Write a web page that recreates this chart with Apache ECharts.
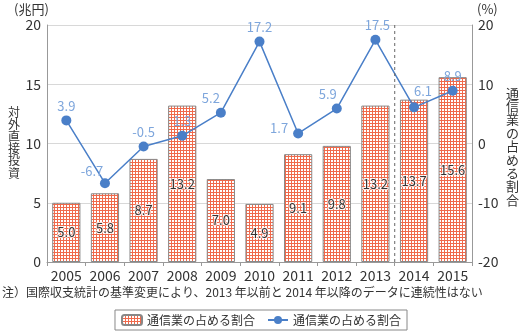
<!DOCTYPE html>
<html><head><meta charset="utf-8">
<script src="https://cdn.jsdelivr.net/npm/echarts@6/dist/echarts.min.js"></script>
<style>html,body{margin:0;padding:0;background:#fff}#c{width:522px;height:336px}</style>
</head><body><div id="c"></div>
<script>
var years = ['2005','2006','2007','2008','2009','2010','2011','2012','2013','2014','2015'];
var investment = [5.0, 5.8, 8.7, 13.2, 7.0, 4.9, 9.1, 9.8, 13.2, 13.7, 15.6];
var share = [3.9, -6.7, -0.5, 1.3, 5.2, 17.2, 1.7, 5.9, 17.5, 6.1, 8.9];
var leftTicks = [0, 5, 10, 15, 20];
var rightTicks = [-20, -10, 0, 10, 20];
var legendName = '通信業の占める割合';
var leftTitle = '対外直接投資';
var rightTitle = '通信業の占める割合';
var noteText = '注）国際収支統計の基準変更により、2013 年以前と 2014 年以降のデータに連続性はない';

var FONT = '"Noto Sans CJK JP", "Noto Sans", sans-serif';
// pattern
var pc = document.createElement('canvas');
pc.width = 3; pc.height = 3;
var pctx = pc.getContext('2d');
pctx.fillStyle = '#f06a4c'; pctx.fillRect(0,0,3,3);
pctx.fillStyle = '#ffffff'; pctx.fillRect(1,1,2,2);
var pattern = {image: pc, repeat: 'repeat'};

// label placements for line points (style config, not data)
var lblPos = ['top','top','top','top','top','top','left','top','top','top','top'];
var lblOff = [[0,2],[-13,4],[0,2],[0,2],[-10,2],[0,2],[0,-5],[-9,2],[2,2],[9,0],[0,2]];

function vtext(s){ return s.split('').join('\n'); }

var chart = echarts.init(document.getElementById('c'));
var option = {
  animation: false,
  textStyle: {fontFamily: FONT},
  title: [{
    text: vtext(leftTitle), left: 8, top: 106, padding: 0,
    textStyle: {fontSize: 12, lineHeight: 12.2, fontWeight: 'normal', color: '#333', fontFamily: FONT}
  }, {
    text: vtext(rightTitle), left: 506, top: 86, padding: 0,
    textStyle: {fontSize: 13, lineHeight: 13.4, fontWeight: 'normal', color: '#333', fontFamily: FONT}
  }],
  grid: {left: 47, right: 50, top: 25, bottom: 74},
  legend: {
    left: 'center', top: 310,
    itemWidth: 20, itemHeight: 10, itemGap: 12,
    padding: [4, 6],
    borderColor: '#888', borderWidth: 1,
    textStyle: {fontFamily: FONT, fontSize: 12, color: '#333'},
    data: ['bar', 'line'],
    formatter: function(){ return legendName; }
  },
  xAxis: {
    type: 'category', data: years,
    axisLine: {lineStyle: {color: '#999'}},
    axisTick: {show: true, length: 4, lineStyle: {color: '#999'}},
    axisLabel: {interval: 0, fontSize: 14, color: '#333', margin: 7, fontFamily: FONT}
  },
  yAxis: [{
    type: 'value', min: leftTicks[0], max: leftTicks[leftTicks.length-1], interval: 5,
    axisLine: {show: true, lineStyle: {color: '#999'}},
    axisTick: {show: false},
    splitLine: {lineStyle: {color: '#d8d8d8'}},
    axisLabel: {fontSize: 14, color: '#333', margin: 6, fontFamily: FONT}
  }, {
    type: 'value', min: rightTicks[0], max: rightTicks[rightTicks.length-1], interval: 10,
    axisLine: {show: true, lineStyle: {color: '#999'}},
    axisTick: {show: false},
    splitLine: {show: false},
    axisLabel: {fontSize: 14, color: '#333', margin: 6, fontFamily: FONT}
  }],
  series: [{
    name: 'bar', type: 'bar', yAxisIndex: 0, barWidth: '73%',
    data: investment,
    itemStyle: {color: pattern, borderColor: '#888', borderWidth: 1},
    label: {show: true, position: 'inside', fontSize: 13, color: '#333', fontFamily: FONT,
      textBorderColor: 'rgba(255,255,255,0.8)', textBorderWidth: 2,
      formatter: function(p){ return p.value.toFixed(1); }}
  }, {
    name: 'line', type: 'line', yAxisIndex: 1,
    data: share.map(function(v, i){
      return {value: v, label: {position: lblPos[i], offset: lblOff[i]}};
    }),
    symbol: 'circle', symbolSize: 10,
    lineStyle: {color: '#4a7fc8', width: 1.5},
    itemStyle: {color: '#4a7fc8'},
    label: {show: true, fontSize: 13, color: '#7ea6dc', fontFamily: FONT,
      formatter: function(p){ return p.value.toFixed(1); }}
  }]
};
chart.setOption(option);

var x13 = chart.convertToPixel({xAxisIndex: 0}, '2013');
var x14 = chart.convertToPixel({xAxisIndex: 0}, '2014');
var yTop = chart.convertToPixel({yAxisIndex: 0}, leftTicks[leftTicks.length-1]);
var yBot = chart.convertToPixel({yAxisIndex: 0}, leftTicks[0]);
var xm = (x13 + x14) / 2;

chart.setOption({graphic: [
  {type: 'line', shape: {x1: xm, y1: yTop, x2: xm, y2: yBot}, style: {stroke: '#666', lineWidth: 1, lineDash: [3,3]}, z: 10},
  {type: 'text', left: 14, top: 3, style: {text: '(兆円)', fontSize: 13, fontFamily: FONT, fill: '#333'}},
  {type: 'text', left: 477, top: 3, style: {text: '(%)', fontSize: 13, fontFamily: FONT, fill: '#333'}},
  {type: 'text', left: 2, top: 286, style: {text: noteText, fontSize: 12, fontFamily: FONT, fill: '#333'}}
]});
</script></body></html>
